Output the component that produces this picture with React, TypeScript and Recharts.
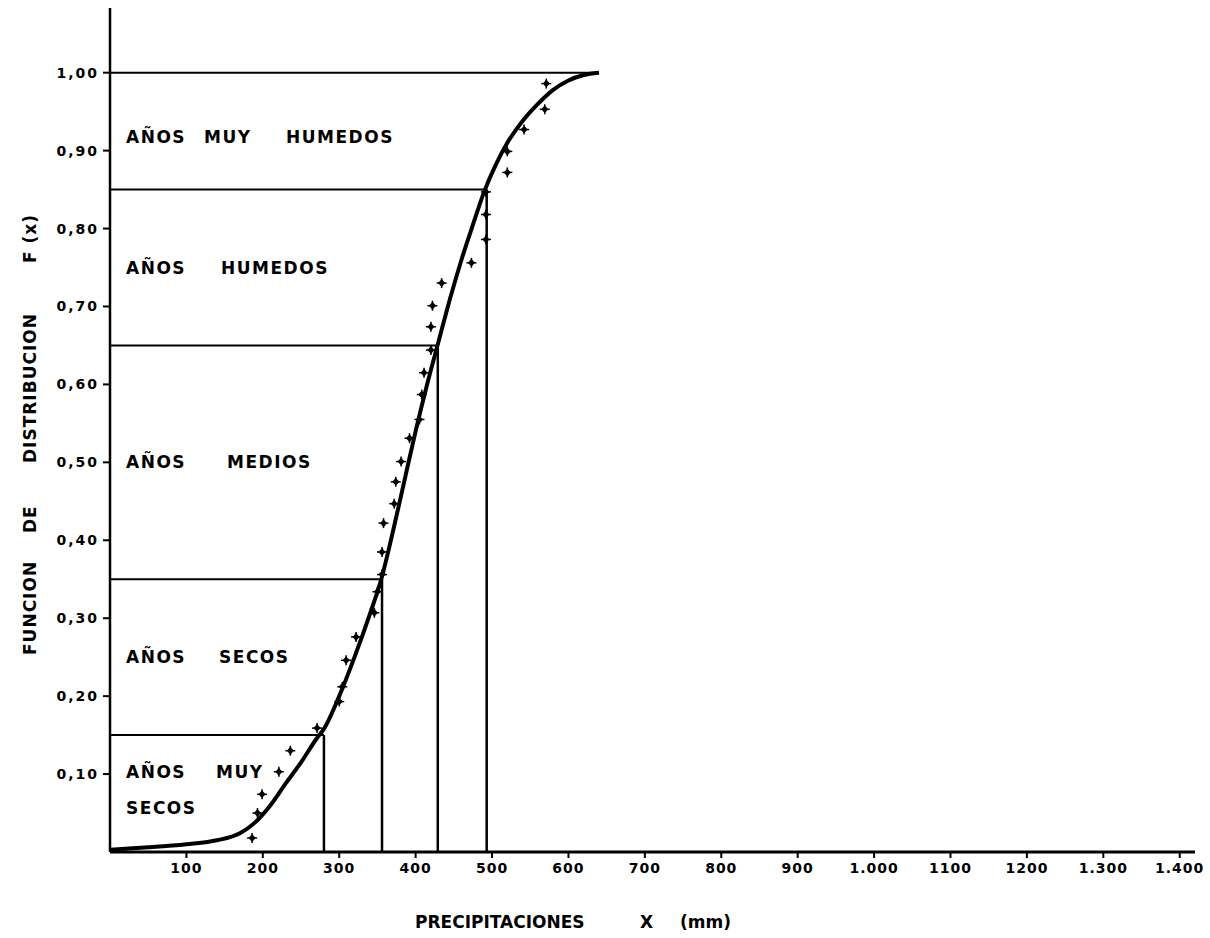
import React from "react";
import {
  ComposedChart,
  XAxis,
  YAxis,
  Line,
  Scatter,
  ReferenceLine,
  ReferenceDot,
} from "recharts";

// fitted distribution curve (precipitation mm -> F(x))
const curveX = [0, 50, 100, 140, 170, 190, 210, 230, 250, 270, 280, 300, 320, 340, 355, 370, 385, 400, 415, 430, 445, 460, 475, 490, 505, 520, 540, 560, 580, 600, 620, 640];
const curveF = [0.003, 0.006, 0.01, 0.015, 0.024, 0.038, 0.06, 0.088, 0.115, 0.145, 0.158, 0.2, 0.25, 0.305, 0.35, 0.41, 0.475, 0.54, 0.6, 0.655, 0.71, 0.76, 0.805, 0.848, 0.882, 0.91, 0.938, 0.96, 0.978, 0.99, 0.997, 1.0];

// observed years
const obsX = [186, 193, 199, 221, 236, 271, 300, 304, 309, 322, 346, 350, 356, 356, 358, 372, 374, 381, 392, 405, 408, 411, 420, 420, 422, 434, 473, 492, 492, 492, 520, 520, 542, 569, 571];
const obsF = [0.018, 0.05, 0.074, 0.103, 0.13, 0.159, 0.193, 0.212, 0.246, 0.276, 0.307, 0.334, 0.356, 0.385, 0.422, 0.447, 0.475, 0.501, 0.531, 0.555, 0.587, 0.615, 0.644, 0.674, 0.701, 0.73, 0.756, 0.786, 0.818, 0.847, 0.872, 0.899, 0.927, 0.953, 0.986];

// class limits
const limitF = [0.15, 0.35, 0.65, 0.85];
const limitX = [280, 356, 429, 493];
const topF = 1.0;
const topX = 640;

const xTicks = [100, 200, 300, 400, 500, 600, 700, 800, 900, 1000, 1100, 1200, 1300, 1400];
const xTickLabels = ["100", "200", "300", "400", "500", "600", "700", "800", "900", "1.000", "1100", "1200", "1.300", "1.400"];
const yTicks = [0.1, 0.2, 0.3, 0.4, 0.5, 0.6, 0.7, 0.8, 0.9, 1.0];

const curveData = curveX.map((x, i) => ({ x, F: curveF[i] }));
const obsData = obsX.map((x, i) => ({ x, F: obsF[i] }));

const FONT = "'DejaVu Sans', sans-serif";

const Cross = (props: any) => {
  const { cx, cy } = props;
  if (cx == null || cy == null) return null;
  return (
    <g>
      <path
        d={`M${cx},${cy - 4} L${cx + 3.5},${cy} L${cx},${cy + 4} L${cx - 3.5},${cy} Z`}
        fill="#000"
      />
      <line x1={cx - 5} y1={cy} x2={cx + 5} y2={cy} stroke="#000" strokeWidth={1.5} />
      <line x1={cx} y1={cy - 5} x2={cx} y2={cy + 5} stroke="#000" strokeWidth={1.5} />
    </g>
  );
};

// region label: words placed at pixel offsets from the first word
const regionLabel = (words: string[], offsets: number[]) => (props: any) => {
  const { viewBox } = props;
  const x0 = viewBox.x + (viewBox.width || 0) / 2;
  const y0 = viewBox.y + (viewBox.height || 0) / 2;
  return (
    <text
      y={y0}
      fontFamily={FONT}
      fontWeight="bold"
      fontSize={17}
      letterSpacing={1.5}
      fill="#000"
      dominantBaseline="central"
    >
      {words.map((w, i) => (
        <tspan key={i} x={x0 + offsets[i]}>
          {w}
        </tspan>
      ))}
    </text>
  );
};

const xLabel = (props: any) => {
  const { viewBox } = props;
  const y = viewBox.y + 70;
  return (
    <text y={y} fontFamily={FONT} fontWeight="bold" fontSize={17} fill="#000" dominantBaseline="central">
      <tspan x={415}>PRECIPITACIONES</tspan>
      <tspan x={640}>X</tspan>
      <tspan x={680}>(mm)</tspan>
    </text>
  );
};

const yLabel = () => (
  <g transform="translate(30,655) rotate(-90)">
    <text y={0} fontFamily={FONT} fontWeight="bold" fontSize={17} letterSpacing={1} fill="#000" dominantBaseline="central">
      <tspan x={0}>FUNCION</tspan>
      <tspan x={122}>DE</tspan>
      <tspan x={192}>DISTRIBUCION</tspan>
      <tspan x={392}>F (x)</tspan>
    </text>
  </g>
);

const App = () => {
  return (
    <div style={{ position: "absolute", left: 0, top: 0, background: "#fff" }}>
      <ComposedChart
        width={1210}
        height={938}
        margin={{ top: 8, right: 15, left: 0, bottom: 0 }}
      >
        <XAxis
          type="number"
          dataKey="x"
          domain={[0, 1420]}
          ticks={xTicks}
          tickFormatter={(v: number) => xTickLabels[xTicks.indexOf(v)]}
          height={86}
          tickSize={6}
          tickMargin={5}
          axisLine={{ stroke: "#000", strokeWidth: 3 }}
          tickLine={{ stroke: "#000", strokeWidth: 2 }}
          tick={{ fontFamily: FONT, fontWeight: "bold", fontSize: 14, fill: "#000", letterSpacing: 1 }}
          allowDataOverflow
          label={xLabel}
        />
        <YAxis
          type="number"
          domain={[0, 1.083]}
          ticks={yTicks}
          tickFormatter={(v: number) => v.toFixed(2).replace(".", ",")}
          width={110}
          tickSize={7}
          tickMargin={4}
          axisLine={{ stroke: "#000", strokeWidth: 2.5 }}
          tickLine={{ stroke: "#000", strokeWidth: 2 }}
          tick={{ fontFamily: FONT, fontWeight: "bold", fontSize: 14, fill: "#000", letterSpacing: 2 }}
          allowDataOverflow
          label={yLabel}
        />

        <ReferenceLine
          segment={[{ x: 0, y: topF }, { x: topX, y: topF }]}
          stroke="#000"
          strokeWidth={2}
          ifOverflow="visible"
        />
        {limitF.map((f, i) => (
          <ReferenceLine
            key={"h" + i}
            segment={[{ x: 0, y: f }, { x: limitX[i], y: f }]}
            stroke="#000"
            strokeWidth={2}
            ifOverflow="visible"
          />
        ))}
        {limitF.map((f, i) => (
          <ReferenceLine
            key={"v" + i}
            segment={[{ x: limitX[i], y: 0 }, { x: limitX[i], y: f }]}
            stroke="#000"
            strokeWidth={2.5}
            ifOverflow="visible"
          />
        ))}

        <ReferenceDot x={21} y={0.918} r={0} fill="none" stroke="none" label={regionLabel(["AÑOS", "MUY", "HUMEDOS"], [0, 78, 160])} />
        <ReferenceDot x={21} y={0.75} r={0} fill="none" stroke="none" label={regionLabel(["AÑOS", "HUMEDOS"], [0, 95])} />
        <ReferenceDot x={21} y={0.5} r={0} fill="none" stroke="none" label={regionLabel(["AÑOS", "MEDIOS"], [0, 101])} />
        <ReferenceDot x={21} y={0.25} r={0} fill="none" stroke="none" label={regionLabel(["AÑOS", "SECOS"], [0, 93])} />
        <ReferenceDot x={21} y={0.103} r={0} fill="none" stroke="none" label={regionLabel(["AÑOS", "MUY"], [0, 90])} />
        <ReferenceDot x={21} y={0.056} r={0} fill="none" stroke="none" label={regionLabel(["SECOS"], [0])} />

        <Line
          data={curveData}
          dataKey="F"
          type="monotone"
          stroke="#000"
          strokeWidth={4}
          dot={false}
          activeDot={false}
          isAnimationActive={false}
        />
        <Scatter
          data={obsData}
          dataKey="F"
          shape={Cross}
          isAnimationActive={false}
        />
      </ComposedChart>
    </div>
  );
};

export default App;
